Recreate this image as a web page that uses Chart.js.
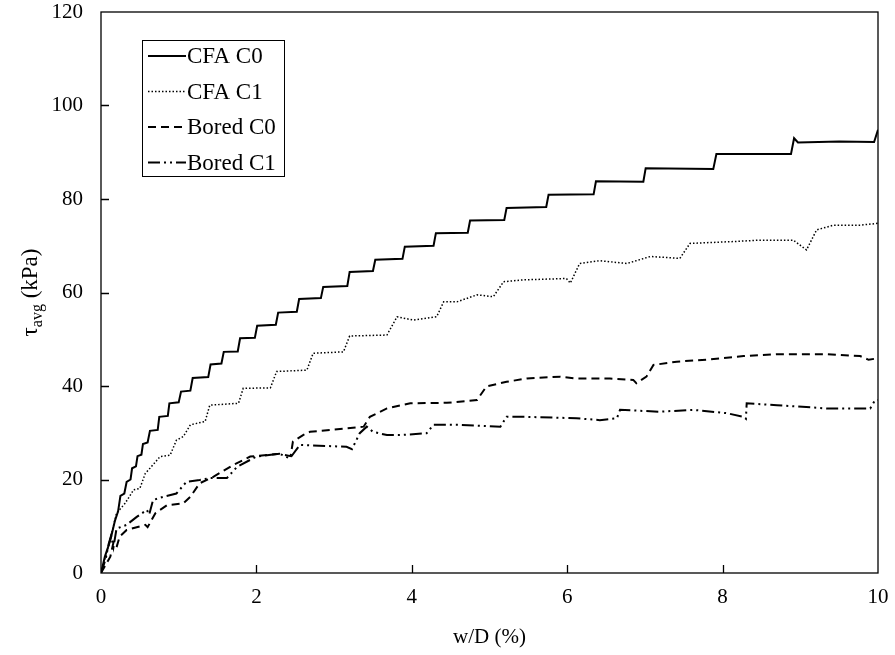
<!DOCTYPE html>
<html>
<head>
<meta charset="utf-8">
<title>tau avg vs w/D</title>
<script src="https://cdn.jsdelivr.net/npm/chart.js@4.4.1/dist/chart.umd.min.js"></script>
<style>
  html, body { margin: 0; padding: 0; background: #fff; }
  canvas { display: block; }
</style>
</head>
<body>
<canvas id="shearChart" width="895" height="655"></canvas>
<script>
// values, [w/D %, tau kPa]
const cfaC0 = [
  [0,0],[0.05,3.5],[0.12,7],[0.18,11.2],[0.22,13.2],[0.25,16.5],[0.3,17],[0.33,19.5],[0.38,20],
  [0.4,22.4],[0.45,22.8],[0.47,25],[0.52,25.3],[0.54,27.6],[0.6,27.9],[0.63,30.4],[0.73,30.6],
  [0.75,33.4],[0.86,33.6],[0.88,36.3],[1.0,36.5],[1.03,38.8],[1.15,39],[1.18,41.7],[1.38,41.9],
  [1.41,44.6],[1.55,44.8],[1.58,47.3],[1.76,47.4],[1.79,50.2],[1.98,50.3],[2.01,52.9],[2.25,53.1],
  [2.28,55.7],[2.52,55.9],[2.55,58.6],[2.83,58.8],[2.86,61.2],[3.17,61.4],[3.2,64.4],[3.5,64.6],
  [3.53,67.0],[3.88,67.2],[3.91,69.8],[4.28,70.0],[4.31,72.7],[4.72,72.8],[4.75,75.4],[5.19,75.5],
  [5.22,78.1],[5.73,78.3],[5.76,80.9],[6.34,81.0],[6.37,83.8],[6.98,83.7],[7.01,86.6],[7.88,86.4],
  [7.92,89.6],[8.88,89.6],[8.92,93.0],[8.97,92.1],[9.5,92.3],[9.95,92.2],[10,94.8]
];
const cfaC1 = [
  [0,0],[0.1,6],[0.2,12.8],[0.31,14.9],[0.42,17.8],[0.5,18.1],[0.57,21.3],[0.63,22.4],[0.76,24.9],
  [0.89,25.2],[0.97,28.4],[1.06,29.2],[1.15,31.7],[1.34,32.4],[1.4,35.9],[1.77,36.3],[1.83,39.5],
  [2.18,39.6],[2.26,43.1],[2.65,43.4],[2.73,47.0],[3.12,47.3],[3.2,50.7],[3.68,50.9],[3.81,54.8],
  [4.02,54.1],[4.32,54.8],[4.41,58.0],[4.58,58.0],[4.84,59.5],[5.05,59.1],[5.18,62.3],[5.43,62.7],
  [5.99,63.0],[6.04,62.0],[6.16,66.2],[6.42,66.8],[6.77,66.2],[7.07,67.7],[7.45,67.3],[7.58,70.5],
  [8.14,70.9],[8.48,71.2],[8.91,71.2],[9.08,69.1],[9.21,73.4],[9.43,74.4],[9.77,74.4],[10,74.8]
];
const boredC0 = [
  [0,0],[0.12,3.5],[0.16,6.5],[0.2,5.5],[0.24,7.8],[0.33,9.2],[0.57,10.3],[0.6,9.8],[0.7,12.8],
  [0.85,14.5],[1.06,14.9],[1.15,16.3],[1.27,19.2],[1.45,20.6],[1.7,23.1],[1.92,24.9],[2.3,25.5],
  [2.44,25.0],[2.47,28.1],[2.6,29.5],[2.69,30.2],[2.95,30.6],[3.38,31.3],[3.46,33.4],[3.68,35.2],
  [3.98,36.3],[4.45,36.4],[4.84,37.0],[4.96,39.9],[5.22,40.9],[5.48,41.6],[5.91,42.0],[6.12,41.6],
  [6.55,41.6],[6.85,41.3],[6.89,40.6],[7.02,42.0],[7.11,44.5],[7.41,45.2],[7.84,45.7],[8.27,46.4],
  [8.7,46.8],[9.34,46.8],[9.77,46.4],[9.88,45.6],[9.98,45.9],[10,46]
];
const boredC1 = [
  [0,0],[0.06,3],[0.1,6.3],[0.13,8],[0.16,5.5],[0.2,9.5],[0.33,10.3],[0.46,12.0],[0.59,13.5],
  [0.62,12.5],[0.67,15.6],[0.8,16.3],[0.97,17.0],[1.1,19.5],[1.27,19.9],[1.4,20.3],[1.62,20.3],
  [1.75,22.7],[2.0,24.9],[2.3,25.5],[2.43,24.5],[2.56,27.4],[3.16,27.0],[3.23,26.5],[3.33,29.9],
  [3.42,31.3],[3.5,30.2],[3.68,29.5],[3.85,29.5],[4.19,29.9],[4.28,31.7],[4.62,31.7],[5.14,31.3],
  [5.22,33.4],[5.48,33.4],[6.12,33.1],[6.42,32.7],[6.64,33.1],[6.68,34.9],[7.19,34.5],[7.62,34.9],
  [8.05,34.2],[8.27,33.4],[8.3,33.0],[8.31,36.3],[8.7,35.9],[9.34,35.2],[9.9,35.2],[9.96,36.9],[10,37]
];

const seriesNames = ['CFA C0', 'CFA C1', 'Bored C0', 'Bored C1'];
const xTickValues = [0, 2, 4, 6, 8, 10];
const yTickValues = [0, 20, 40, 60, 80, 100, 120];

const FONT = 'Liberation Serif, "Times New Roman", serif';

const toPoints = arr => arr.map(p => ({ x: p[0], y: p[1] }));

const lineStyles = [
  { width: 2, dash: [] },
  { width: 1.5, dash: [1.5, 2] },
  { width: 2, dash: [8, 5] },
  { width: 2, dash: [12, 4, 2, 4, 2, 4] }
];

const datasets = [cfaC0, cfaC1, boredC0, boredC1].map((arr, i) => ({
  label: seriesNames[i],
  data: toPoints(arr),
  borderColor: '#000',
  borderWidth: lineStyles[i].width,
  borderDash: lineStyles[i].dash,
  pointRadius: 0,
  tension: 0,
  fill: false
}));

//! frame, inward ticks, legend box and y title
const decorations = {
  id: 'decorations',
  afterDraw(chart) {
    const ctx = chart.ctx;
    const area = chart.chartArea;
    const xs = chart.scales.x, ys = chart.scales.y;
    ctx.save();
    ctx.strokeStyle = '#000';
    ctx.lineWidth = 1.3;
    ctx.setLineDash([]);
    ctx.strokeRect(area.left, area.top, area.right - area.left, area.bottom - area.top);

    ctx.beginPath();
    yTickValues.slice(1, -1).forEach(v => {
      const py = Math.round(ys.getPixelForValue(v)) + 0.5;
      ctx.moveTo(area.left, py);
      ctx.lineTo(area.left + 8, py);
    });
    xTickValues.slice(1, -1).forEach(v => {
      const px = Math.round(xs.getPixelForValue(v)) + 0.5;
      ctx.moveTo(px, area.bottom);
      ctx.lineTo(px, area.bottom - 8);
    });
    ctx.stroke();

    // legend
    ctx.lineWidth = 1;
    ctx.strokeRect(142.5, 40.5, 142, 136);
    ctx.font = '23px ' + FONT;
    ctx.fillStyle = '#000';
    ctx.textBaseline = 'middle';
    ctx.textAlign = 'left';
    datasets.forEach((ds, i) => {
      const ly = 56 + i * 35.5;
      ctx.beginPath();
      ctx.lineWidth = ds.borderWidth;
      ctx.setLineDash(ds.borderDash);
      ctx.moveTo(148, ly);
      ctx.lineTo(186, ly);
      ctx.stroke();
      ctx.fillText(ds.label, 187, ly + 1);
    });
    ctx.setLineDash([]);

    // y title with subscript
    const bigFont = '23px ' + FONT, smallFont = '16px ' + FONT;
    ctx.font = bigFont;
    const wTau = ctx.measureText('\u03c4').width;
    const wRest = ctx.measureText(' (kPa)').width;
    ctx.font = smallFont;
    const wSub = ctx.measureText('avg').width;
    const total = wTau + wSub + wRest;
    ctx.translate(30, (area.top + area.bottom) / 2);
    ctx.rotate(-Math.PI / 2);
    ctx.textBaseline = 'alphabetic';
    let tx = -total / 2;
    ctx.font = bigFont;
    ctx.fillText('\u03c4', tx, 7);
    tx += wTau;
    ctx.font = smallFont;
    ctx.fillText('avg', tx, 12);
    tx += wSub;
    ctx.font = bigFont;
    ctx.fillText(' (kPa)', tx, 7);
    ctx.restore();
  }
};

const chart = new Chart(document.getElementById('shearChart').getContext('2d'), {
  type: 'line',
  data: { datasets: datasets },
  options: {
    responsive: false,
    animation: false,
    devicePixelRatio: 1,
    layout: { padding: { left: 0, right: 17, top: 12, bottom: 0 } },
    plugins: {
      legend: { display: false },
      tooltip: { enabled: false }
    },
    scales: {
      x: {
        type: 'linear',
        min: 0,
        max: 10,
        afterFit: s => { s.height = 82; s.paddingLeft = 0; s.paddingRight = 0; },
        afterBuildTicks: s => { s.ticks = xTickValues.map(v => ({ value: v })); },
        grid: { display: false, drawTicks: false },
        border: { display: false },
        ticks: { color: '#000', padding: 12, maxRotation: 0, font: { family: FONT, size: 21 } },
        title: { display: true, text: 'w/D (%)', color: '#000', padding: { top: 0, bottom: 5 }, font: { family: FONT, size: 21 } }
      },
      y: {
        type: 'linear',
        min: 0,
        max: 120,
        afterFit: s => { s.width = 101; s.paddingTop = 0; s.paddingBottom = 0; },
        afterBuildTicks: s => { s.ticks = yTickValues.map(v => ({ value: v })); },
        grid: { display: false, drawTicks: false },
        border: { display: false },
        ticks: { color: '#000', padding: 18, font: { family: FONT, size: 21 } }
      }
    }
  },
  plugins: [decorations]
});
</script>
</body>
</html>
